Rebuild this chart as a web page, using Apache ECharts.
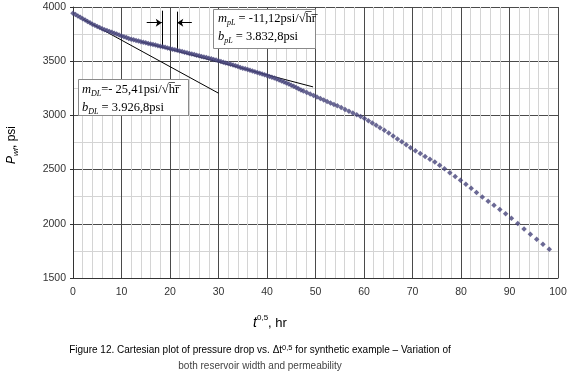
<!DOCTYPE html>
<html>
<head>
<meta charset="utf-8">
<script src="https://cdn.jsdelivr.net/npm/echarts@6/dist/echarts.min.js"></script>
<style>
html,body{margin:0;padding:0;background:#fff;}
#chart{width:580px;height:383px;}
</style>
</head>
<body>
<div id="chart"></div>
<script>
// sqrt(t) values (x) and bottom-hole pressure (y, psi)
const sqrtT = [0,0.5,1,1.5,2,2.5,3,3.5,4,4.5,5,5.5,6,6.5,7,7.5,8,8.5,9,9.5,
  10,10.5,11,11.5,12,12.5,13,13.5,14,14.5,15,15.5,16,16.5,17,17.5,18,18.5,19,19.5,
  20,20.5,21,21.5,22,22.5,23,23.5,24,24.5,25,25.5,26,26.5,27,27.5,28,28.5,29,29.5,
  30,30.5,31,31.5,32,32.5,33,33.5,34,34.5,35,35.5,36,36.5,37,37.5,38,38.5,39,39.5,
  40,40.5,41,41.5,42,42.5,43,43.5,44,44.5,45,45.5,46,46.5,47,
  47.5,48.2,48.9,49.6,50.3,51.0,51.7,52.4,53.1,53.8,54.5,55.3,56.1,56.9,57.7,58.5,59.3,60.1,60.9,61.7,
  62.5,63.3,64.2,65.1,66.0,66.9,67.8,68.7,69.6,70.6,71.6,72.6,73.6,74.6,75.6,76.6,77.7,78.8,79.9,81.0,
  82.1,83.2,84.4,85.6,86.8,88.0,89.2,90.4,91.7,93.0,94.3,95.6,96.9,98.2];
const pwf = [3942,3930,3918,3905,3892,3879,3866,3854,3842,3831,
  3820,3810,3800,3791,3783,3774,3766,3758,3750,3741,
  3733,3725,3718,3710,3703,3697,3691,3686,3680,3675,
  3670,3664,3659,3654,3649,3643,3638,3633,3628,3622,
  3617,3611,3606,3600,3595,3589,3583,3578,3572,3567,
  3561,3555,3550,3544,3539,3533,3527,3522,3516,3511,
  3505,3498,3491,3484,3478,3471,3464,3457,3450,3443,
  3436,3430,3423,3416,3409,3402,3395,3388,3382,3375,
  3368,3360,3352,3344,3336,3327,3318,3309,3300,3290,
  3279,3269,3258,3247,3235,
  3225,3211,3197,3183,3169,3156,3142,3129,3115,3101,3088,3072,3055,3039,3022,3006,2989,2972,2951,2929,
  2908,2886,2862,2837,2810,2783,2756,2729,2702,2674,2648,2622,2596,2570,2541,2508,2472,2437,2401,2364,
  2327,2289,2248,2209,2170,2131,2092,2051,2002,1953,1904,1857,1812,1765];

// straight-line fits drawn on the plot
const lineDL = [[2, 3890], [30, 3205]];
const linePL = [[14, 3680], [49.5, 3263]];
// vertical markers bounding the fit window
const markLeft = [[18.3, 3966], [18.3, 3634]];
const markRight = [[21.5, 3957], [21.5, 3588]];
// arrows pointing at the markers
const arrowLeft = [[15.2, 3855], [18.3, 3855]];
const arrowRight = [[24.5, 3855], [21.5, 3855]];

const xTicks = [0, 100, 10];
const yTicks = [1500, 4000, 500];

const chart = echarts.init(document.getElementById('chart'), null, {renderer: 'canvas'});
const serif = 'Liberation Serif';
const sans = 'Liberation Sans';

const boxRich = {
  m: {fontFamily: serif, fontStyle: 'italic', fontSize: 12.5, lineHeight: 16, color: '#111'},
  s: {fontFamily: serif, fontStyle: 'italic', fontSize: 8, lineHeight: 9, verticalAlign: 'bottom', color: '#111'},
  n: {fontFamily: serif, fontSize: 12.5, lineHeight: 16, color: '#111'}
};

function annBox(x, y, w, h, l1, l2, tx, ty1, ty2) {
  return {
    type: 'group',
    children: [
      {type: 'rect', z: 100, shape: {x: x + 0.5, y: y + 0.5, width: w, height: h}, style: {fill: '#fff', stroke: '#8a8a8a', lineWidth: 1}},
      {type: 'text', z: 101, x: tx, y: ty1, style: {text: l1, rich: boxRich, verticalAlign: 'middle', align: 'left'}},
      {type: 'text', z: 101, x: tx, y: ty2, style: {text: l2, rich: boxRich, verticalAlign: 'middle', align: 'left'}}
    ]
  };
}

const option = {
  animation: false,
  backgroundColor: '#fff',
  grid: {left: 73, top: 7, right: 22, bottom: 105, containLabel: false},
  xAxis: {
    type: 'value', min: xTicks[0], max: xTicks[1], interval: xTicks[2],
    axisLine: {show: true, lineStyle: {color: '#333', width: 1}},
    axisTick: {show: false},
    axisLabel: {color: '#333', fontFamily: sans, fontSize: 10.5, margin: 9},
    splitLine: {show: true, lineStyle: {color: '#4a4a4a', width: 1}},
    minorTick: {show: false, splitNumber: 5},
    minorSplitLine: {show: true, lineStyle: {color: '#d4d4d4', width: 1}}
  },
  yAxis: {
    type: 'value', min: yTicks[0], max: yTicks[1], interval: yTicks[2],
    axisLine: {show: true, lineStyle: {color: '#333', width: 1}},
    axisTick: {show: true, length: 3, lineStyle: {color: '#333'}},
    axisLabel: {color: '#333', fontFamily: sans, fontSize: 10.5, margin: 7, formatter: v => String(v)},
    splitLine: {show: true, lineStyle: {color: '#4a4a4a', width: 1}},
    minorTick: {show: false, splitNumber: 2},
    minorSplitLine: {show: true, lineStyle: {color: '#d4d4d4', width: 1}}
  },
  series: [
    {
      type: 'lines', coordinateSystem: 'cartesian2d', z: 3,
      symbol: ['none', 'none'],
      lineStyle: {color: '#000', width: 1, opacity: 1},
      data: [{coords: lineDL}, {coords: linePL}, {coords: markLeft}, {coords: markRight}]
    },
    {
      type: 'lines', coordinateSystem: 'cartesian2d', z: 3,
      symbol: ['none', 'arrow'], symbolSize: 6,
      lineStyle: {color: '#000', width: 1, opacity: 1},
      data: [{coords: arrowLeft}, {coords: arrowRight}]
    },
    {
      type: 'scatter', z: 4,
      symbol: 'diamond', symbolSize: 5.5,
      itemStyle: {color: '#46447a'},
      data: sqrtT.map((t, i) => [t, pwf[i]])
    }
  ],
  graphic: [
    annBox(213, 9, 102, 39,
      '{m|m}{s|pL}{n| = -11,12psi/√h\u0305r\u0305}',
      '{m|b}{s|pL}{n| = 3.832,8psi}', 218, 19, 37),
    annBox(78, 79, 110, 36,
      '{m|m}{s|DL}{n|=- 25,41psi/√h\u0305r\u0305}',
      '{m|b}{s|DL}{n| = 3.926,8psi}', 82, 90, 107.5),
    {
      type: 'text', x: 12, y: 145, rotation: Math.PI / 2, z: 100,
      style: {
        text: '{p|P}{w|wf}{n|, psi}', align: 'center', verticalAlign: 'middle',
        rich: {
          p: {fontFamily: sans, fontStyle: 'italic', fontSize: 12, lineHeight: 15, color: '#222'},
          w: {fontFamily: sans, fontStyle: 'italic', fontSize: 8, lineHeight: 8, verticalAlign: 'bottom', color: '#222'},
          n: {fontFamily: sans, fontSize: 12, lineHeight: 15, color: '#222'}
        }
      }
    },
    {
      type: 'text', x: 270, y: 323, z: 100,
      style: {
        text: '{t|t}{u|0,5}{n|, hr}', align: 'center', verticalAlign: 'middle',
        rich: {
          t: {fontFamily: sans, fontStyle: 'italic', fontSize: 14, lineHeight: 18, color: '#222'},
          u: {fontFamily: sans, fontSize: 8, lineHeight: 8, verticalAlign: 'top', color: '#222'},
          n: {fontFamily: sans, fontSize: 13, lineHeight: 18, color: '#222'}
        }
      }
    },
    {
      type: 'text', x: 260, y: 350, z: 100,
      style: {
        text: '{n|Figure 12. Cartesian plot of pressure drop vs. Δt}{u|0,5}{n| for synthetic example – Variation of}',
        align: 'center', verticalAlign: 'middle',
        rich: {
          n: {fontFamily: sans, fontSize: 10, lineHeight: 13, color: '#444'},
          u: {fontFamily: sans, fontSize: 7.5, lineHeight: 8, verticalAlign: 'top', color: '#444'}
        }
      }
    },
    {
      type: 'text', x: 260, y: 366, z: 100,
      style: {
        text: 'both reservoir width and permeability', align: 'center', verticalAlign: 'middle',
        fontFamily: sans, fontSize: 10, fill: '#444'
      }
    }
  ]
};
chart.setOption(option);
</script>
</body>
</html>
